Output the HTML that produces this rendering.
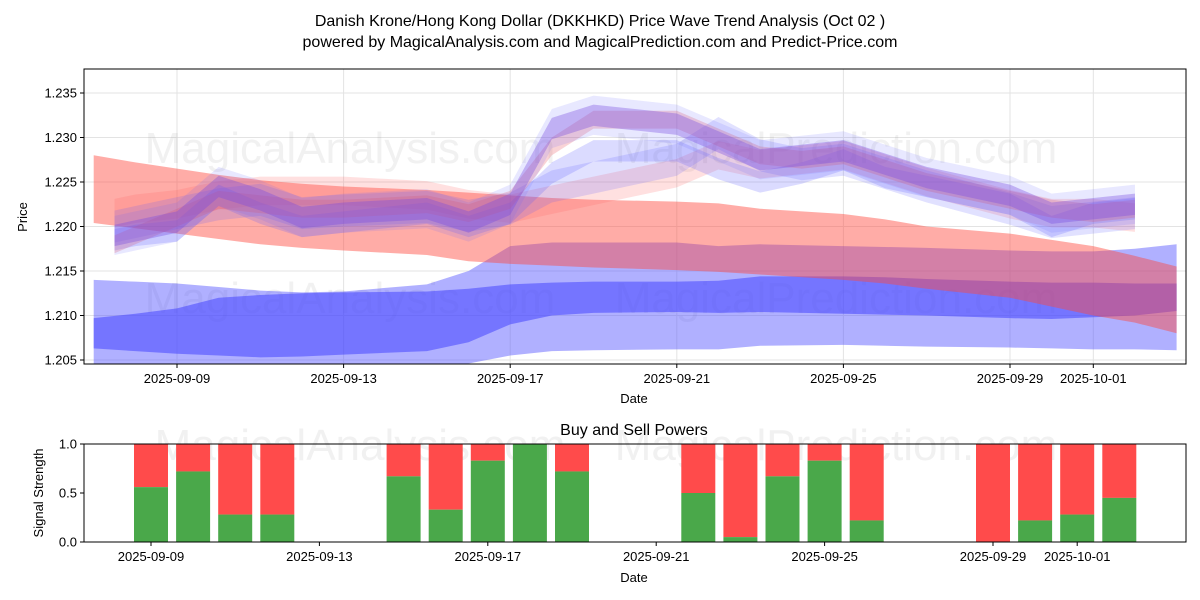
<!DOCTYPE html>
<html><head><meta charset="utf-8"><style>
body{margin:0;background:#fff;}
svg{display:block;font-family:"Liberation Sans","DejaVu Sans",sans-serif;}
</style></head><body>
<svg id="c" width="1200" height="600">
<text x="600" y="26" text-anchor="middle" font-size="16">Danish Krone/Hong Kong Dollar (DKKHKD) Price Wave Trend Analysis (Oct 02 )</text>
<text x="600" y="47" text-anchor="middle" font-size="16">powered by MagicalAnalysis.com and MagicalPrediction.com and Predict-Price.com</text>
<g id="top"></g><g id="bot"></g>
</svg>
<script>
// ---- data ----
const bandDays = [-2,-1,0,1,2,3,4,6,7,8,9,10,12,13,14,16,17,18,20,21,22,23,24];
const lowBandUpper = [1.2140,1.2138,1.2136,1.2132,1.2128,1.2126,1.2127,1.2135,1.2150,1.2178,1.2182,1.2182,1.2182,1.2178,1.2180,1.2178,1.2177,1.2176,1.2173,1.2172,1.2172,1.2175,1.2180];
const lowBandLower = [1.2045,1.2046,1.2046,1.2045,1.2044,1.2044,1.2045,1.2046,1.2046,1.2055,1.2060,1.2061,1.2062,1.2062,1.2066,1.2067,1.2066,1.2065,1.2064,1.2063,1.2062,1.2062,1.2061];
const midBandUpper = [1.2097,1.2102,1.2108,1.2120,1.2123,1.2125,1.2126,1.2127,1.2130,1.2135,1.2137,1.2138,1.2138,1.2139,1.2144,1.2144,1.2143,1.2141,1.2138,1.2137,1.2137,1.2136,1.2136];
const midBandLower = [1.2063,1.2060,1.2057,1.2055,1.2053,1.2054,1.2056,1.2060,1.2070,1.2090,1.2100,1.2103,1.2104,1.2103,1.2104,1.2102,1.2101,1.2100,1.2097,1.2096,1.2098,1.2100,1.2105];
const redBandUpper = [1.2280,1.2272,1.2265,1.2258,1.2252,1.2248,1.2245,1.2241,1.2238,1.2235,1.2232,1.2230,1.2228,1.2226,1.2220,1.2214,1.2208,1.2200,1.2192,1.2185,1.2178,1.2167,1.2155];
const redBandLower = [1.2204,1.2198,1.2192,1.2186,1.2180,1.2176,1.2173,1.2168,1.2161,1.2158,1.2156,1.2154,1.2151,1.2149,1.2146,1.2140,1.2136,1.2130,1.2120,1.2110,1.2100,1.2092,1.2080];
const waveDays = [-1.5,-1,0,1,2,3,4,6,7,8,9,10,12,13,14,15,16,17,18,20,21,22,23];
const wave1 = [1.2190,1.2195,1.2205,1.2245,1.2230,1.2210,1.2215,1.2220,1.2205,1.2225,1.2310,1.2325,1.2315,1.2295,1.2275,1.2280,1.2285,1.2270,1.2255,1.2235,1.2215,1.2220,1.2225];
const wave2 = [1.2180,1.2190,1.2210,1.2230,1.2225,1.2220,1.2220,1.2225,1.2215,1.2230,1.2290,1.2320,1.2320,1.2300,1.2280,1.2275,1.2280,1.2265,1.2250,1.2230,1.2220,1.2215,1.2220];
const wave3 = [1.2200,1.2205,1.2215,1.2225,1.2230,1.2215,1.2218,1.2222,1.2212,1.2220,1.2245,1.2255,1.2275,1.2305,1.2280,1.2270,1.2275,1.2260,1.2245,1.2220,1.2205,1.2210,1.2215];
const wave4 = [1.2185,1.2190,1.2195,1.2235,1.2215,1.2200,1.2205,1.2215,1.2200,1.2215,1.2260,1.2285,1.2285,1.2265,1.2250,1.2260,1.2275,1.2255,1.2245,1.2225,1.2200,1.2215,1.2220];
const wave5 = [1.2215,1.2220,1.2225,1.2235,1.2240,1.2240,1.2240,1.2235,1.2225,1.2220,1.2230,1.2240,1.2260,1.2280,1.2270,1.2275,1.2280,1.2265,1.2250,1.2225,1.2215,1.2215,1.2210];
const yTicks = [1.205,1.210,1.215,1.220,1.225,1.230,1.235];
const xTickDays = [0,4,8,12,16,20,22];
const xTickLabels = ["2025-09-09","2025-09-13","2025-09-17","2025-09-21","2025-09-25","2025-09-29","2025-10-01"];
const barDays = [0,1,2,3,6,7,8,9,10,13,14,15,16,17,20,21,22,23];
const buyPower = [0.56,0.72,0.28,0.28,0.67,0.33,0.83,1.0,0.72,0.5,0.05,0.67,0.83,0.22,0.0,0.22,0.28,0.45];

const NS="http://www.w3.org/2000/svg";
function mk(parent,tag,attrs){const e=document.createElementNS(NS,tag);for(const k in attrs)e.setAttribute(k,attrs[k]);parent.appendChild(e);return e;}
const topG=document.getElementById('top'), botG=document.getElementById('bot');
const TX0=84,TX1=1186,TY0=69,TY1=364;
const tx=d=>177+41.65*d;
const ty=v=>93+(1.235-v)*8900;
const defs=mk(topG,'defs',{});
const cp=mk(defs,'clipPath',{id:'clipTop'});mk(cp,'rect',{x:TX0,y:TY0,width:TX1-TX0,height:TY1-TY0});
xTickDays.forEach(d=>{const l=mk(topG,'line',{x1:tx(d),x2:tx(d),y1:TY0,y2:TY1,stroke:'#e3e3e3','stroke-width':1});});
yTicks.forEach(v=>{const l=mk(topG,'line',{x1:TX0,x2:TX1,y1:ty(v),y2:ty(v),stroke:'#e3e3e3','stroke-width':1});});
[[350,148,'MagicalAnalysis.com'],[836,148,'MagicalPrediction.com'],[350,298,'MagicalAnalysis.com'],[836,298,'MagicalPrediction.com']].forEach(w=>{const t=mk(topG,'text',{x:w[0],y:w[1]+15,'text-anchor':'middle','font-size':44,fill:'rgba(150,150,150,0.13)'});t.textContent=w[2];});
const g=mk(topG,'g',{'clip-path':'url(#clipTop)'});
function band(days,up,lo,fill,name){
  let p=days.map((d,i)=>tx(d)+','+ty(up[i]));
  p=p.concat(days.map((d,i)=>tx(d)+','+ty(lo[i])).reverse());
  const e=mk(g,'polygon',{points:p.join(' '),fill:fill});
  
  
}
band(bandDays,lowBandUpper,lowBandLower,'rgba(80,80,255,0.45)','wave-band-low');
band(bandDays,midBandUpper,midBandLower,'rgba(70,70,255,0.55)','wave-band-mid');
band(bandDays,redBandUpper,redBandLower,'rgba(255,70,60,0.45)','wave-band-red');
function wave(arr,hw,fill,name){band(waveDays,arr.map(v=>v+hw),arr.map(v=>v-hw),fill,name);}
wave(wave5,0.0016,'rgba(255,100,100,0.2)','wave-band-red-light');
wave(wave3,0.0018,'rgba(90,90,255,0.18)','wave-band-blue-light');
wave(wave4,0.0012,'rgba(90,90,255,0.22)','wave-band-blue-2');
wave(wave2,0.0010,'rgba(230,80,90,0.25)','wave-band-red-2');
wave(wave1,0.0012,'rgba(120,70,220,0.35)','wave-band-purple');
wave(wave1,0.0022,'rgba(100,100,255,0.15)','wave-band-blue-wide');
mk(topG,'rect',{x:TX0,y:TY0,width:TX1-TX0,height:TY1-TY0,fill:'none',stroke:'#000','stroke-width':1});
yTicks.forEach(v=>{mk(topG,'line',{x1:TX0-4,x2:TX0,y1:ty(v),y2:ty(v),stroke:'#000'});const t=mk(topG,'text',{x:TX0-7,y:ty(v)+4.5,'text-anchor':'end','font-size':13});t.textContent=v.toFixed(3);});
xTickDays.forEach((d,i)=>{mk(topG,'line',{x1:tx(d),x2:tx(d),y1:TY1,y2:TY1+4,stroke:'#000'});const t=mk(topG,'text',{x:tx(d),y:TY1+19,'text-anchor':'middle','font-size':13});t.textContent=xTickLabels[i];});
let tl=mk(topG,'text',{x:634,y:403,'text-anchor':'middle','font-size':13});tl.textContent='Date';
tl=mk(topG,'text',{x:27,y:217,'text-anchor':'middle','font-size':13,transform:'rotate(-90 27 217)'});tl.textContent='Price';

const BX0=84,BX1=1186,BY0=444,BY1=542;
const bx=d=>151+42.1*d;
const by=v=>542-98*v;
tl=mk(botG,'text',{x:360,y:460,'text-anchor':'middle','font-size':44,fill:'rgba(150,150,150,0.13)'});tl.textContent='MagicalAnalysis.com';
tl=mk(botG,'text',{x:836,y:460,'text-anchor':'middle','font-size':44,fill:'rgba(150,150,150,0.13)'});tl.textContent='MagicalPrediction.com';
const bw=34;
barDays.forEach((d,i)=>{
  const r=mk(botG,'rect',{x:bx(d)-bw/2,y:by(1),width:bw,height:by(buyPower[i])-by(1),fill:'#ff4b4b'});
  
  
  const gr=mk(botG,'rect',{x:bx(d)-bw/2,y:by(buyPower[i]),width:bw,height:by(0)-by(buyPower[i]),fill:'#4aa84a'});
  
  
});
mk(botG,'rect',{x:BX0,y:BY0,width:BX1-BX0,height:BY1-BY0,fill:'none',stroke:'#000','stroke-width':1});
[0,0.5,1].forEach(v=>{mk(botG,'line',{x1:BX0-4,x2:BX0,y1:by(v),y2:by(v),stroke:'#000'});const tt=mk(botG,'text',{x:BX0-7,y:by(v)+4.5,'text-anchor':'end','font-size':13});tt.textContent=v.toFixed(1);});
xTickDays.forEach((d,i)=>{mk(botG,'line',{x1:bx(d),x2:bx(d),y1:BY1,y2:BY1+4,stroke:'#000'});const tt=mk(botG,'text',{x:bx(d),y:BY1+19,'text-anchor':'middle','font-size':13});tt.textContent=xTickLabels[i];});
tl=mk(botG,'text',{x:634,y:582,'text-anchor':'middle','font-size':13});tl.textContent='Date';
tl=mk(botG,'text',{x:634,y:435,'text-anchor':'middle','font-size':16});tl.textContent='Buy and Sell Powers';
tl=mk(botG,'text',{x:43,y:493,'text-anchor':'middle','font-size':13,transform:'rotate(-90 43 493)'});tl.textContent='Signal Strength';
</script>
</body></html>
